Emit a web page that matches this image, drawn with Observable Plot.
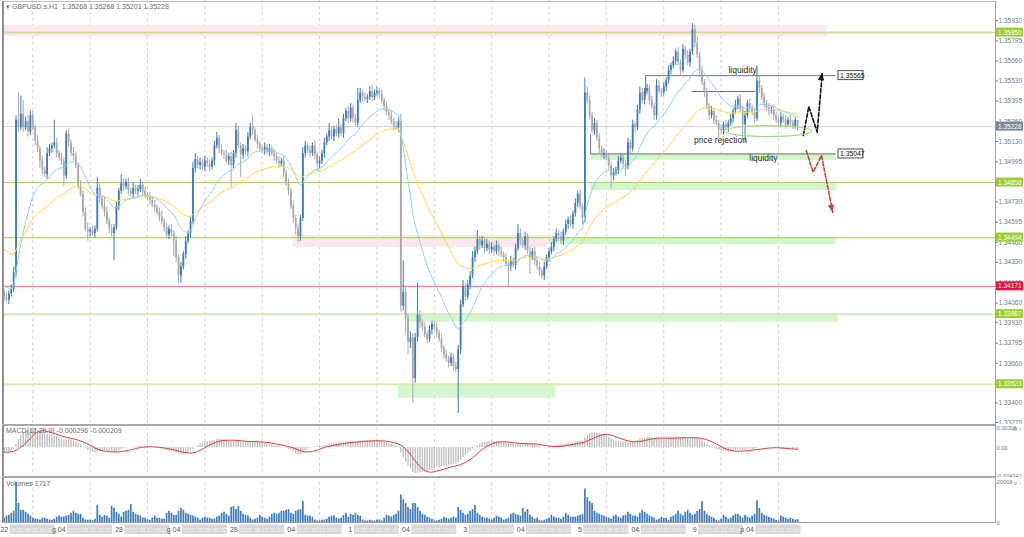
<!DOCTYPE html>
<html><head><meta charset="utf-8">
<script src="https://cdn.jsdelivr.net/npm/d3@7"></script>
<script src="https://cdn.jsdelivr.net/npm/@observablehq/plot@0.6"></script>
<style>
body{margin:0;background:#fff;}
#wrap{position:relative;width:1024px;height:537px;overflow:hidden;background:#fff;font-family:"Liberation Sans",Arial,sans-serif;}
#wrap svg{position:absolute;left:0;}
.ln{position:absolute;background:#a4a4a4;z-index:5;}
.lbl{position:absolute;font-size:7px;color:#6a6a6a;white-space:pre;z-index:6;line-height:8px;}
</style></head><body>
<div id="wrap"></div>
<script>
// ---------------- DATA (prices in pips above 1.3000) ----------------
const BASE = 1.3, PIP = 0.0001;
const firstOpen = 413;
const closePips = [
 410,408,412,415,426,527,522,531,522,526,519,530,
 522,513,508,500,494,491,505,508,510,512,505,502,500,490,518,512,505,503,497,484,478,466,455,453,
 454,452,455,482,475,470,466,460,455,452,456,470,480,485,483,486,480,478,482,480,481,484,480,477,
 476,474,471,469,466,463,460,456,451,455,452,447,436,424,430,438,447,452,460,495,501,497,499,496,
 500,498,496,500,510,515,508,505,504,500,503,497,505,520,510,504,508,506,516,522,520,514,511,508,
 507,509,506,508,505,503,500,498,500,492,485,480,470,462,455,450,462,505,510,507,505,510,504,498,
 500,505,512,516,520,516,521,518,522,518,528,533,528,535,528,525,540,545,542,541,542,546,542,545,
 546,544,540,536,532,530,526,523,522,526,404,413,396,380,383,356,383,398,393,390,385,382,388,392,
 390,386,382,376,372,369,366,370,364,362,375,405,417,410,418,424,436,440,448,444,447,442,445,441,
 443,440,444,440,438,436,432,430,434,431,442,452,447,444,450,440,436,440,434,430,427,424,430,436,
 440,443,448,452,450,447,453,458,461,458,465,472,478,470,462,545,540,530,520,525,515,508,504,505,
 502,497,490,492,494,500,502,498,496,512,508,524,522,534,545,540,546,548,540,536,530,550,546,545,
 549,553,560,563,566,572,565,560,574,570,565,572,587,578,570,560,552,545,536,530,533,527,525,521,
 520,524,522,525,528,533,537,541,534,524,530,538,535,532,528,553,548,542,538,535,533,534,530,527,
 525,529,527,524,527,525,523,526.8,522.8
];
const wickUp = [
 2,3,2,3,4,3,18,12,9,3,4,3,
 3,2,4,2,3,2,4,3,2,15,3,2,3,2,2,3,2,4,3,2,3,2,3,4,
 2,3,2,7,3,2,6,3,2,3,2,3,2,6,3,2,3,2,4,2,3,4,2,3,
 2,3,2,3,2,3,4,2,3,2,3,2,3,2,3,2,3,2,3,4,4,2,3,2,
 3,2,3,2,3,4,2,3,2,3,2,3,2,5,3,2,3,2,3,3,8,2,3,2,
 2,3,2,3,2,3,2,3,2,3,2,3,2,3,2,3,2,4,3,2,3,2,3,2,
 3,2,3,2,5,3,2,3,6,2,3,2,3,3,2,3,8,3,2,3,2,3,4,2,
 3,2,3,2,3,2,3,2,3,3,5,21,4,3,4,3,3,21,3,2,3,2,3,2,
 2,3,2,3,2,3,2,3,2,3,3,3,4,2,3,3,4,3,6,2,3,2,3,2,
 3,2,3,2,3,2,3,2,3,2,3,6,3,2,3,2,3,2,3,2,3,2,3,2,
 2,3,2,3,2,3,2,3,2,3,2,3,2,3,2,10,4,3,2,3,2,3,2,3,
 2,3,2,3,2,3,2,3,2,3,2,3,2,3,4,3,2,3,2,3,2,4,3,2,
 3,2,3,2,3,2,3,2,3,2,3,2,4,3,4,2,3,2,3,2,3,2,3,2,
 3,2,3,2,3,2,3,2,3,2,3,2,3,2,3,10,3,2,3,2,3,2,3,2,
 2,3,2,3,2,3,2,2,0
];
const wickDn = [
 3,2,3,2,2,3,3,2,3,2,3,2,
 2,3,2,5,3,2,3,2,3,2,3,2,3,7,2,3,2,3,2,3,2,3,2,6,
 3,2,3,2,3,2,3,2,3,2,18,2,3,2,3,2,3,2,3,2,3,2,3,2,
 2,3,2,3,2,3,2,3,2,3,2,10,3,5,5,2,3,2,3,2,3,2,3,2,
 3,2,3,2,3,2,3,2,3,2,3,15,2,3,2,15,3,2,3,2,3,2,3,2,
 2,3,2,3,2,3,2,3,2,3,2,3,2,3,4,4,3,2,3,2,3,2,3,5,
 3,2,3,2,3,2,3,2,3,2,3,2,3,2,3,2,3,2,3,2,3,2,3,2,
 2,3,2,3,2,3,2,3,2,3,4,3,11,8,4,16,3,3,4,3,2,3,2,3,
 2,3,2,3,3,2,3,2,3,2,29,3,2,3,2,3,2,3,2,3,2,3,2,3,
 2,3,2,3,2,3,2,14,3,2,3,2,3,2,3,2,11,2,3,2,3,2,3,2,
 3,2,3,2,3,2,3,2,3,2,3,2,3,2,4,3,2,3,2,3,2,3,2,3,
 2,3,8,3,2,3,2,3,6,2,3,2,3,2,3,2,3,2,3,2,3,3,2,3,
 2,3,2,3,2,3,2,3,2,3,2,3,2,3,2,3,2,3,2,3,2,3,2,6,
 2,3,2,3,2,3,2,3,2,10,12,2,3,2,3,2,3,2,3,2,3,2,3,2,
 2,3,2,3,2,3,2,2,2.7
];
const volumes = [
 2400,3400,3800,4800,5800,20006,9600,6200,6300,5300,4300,3400,
 2400,1900,1900,1500,2400,2400,1900,1500,1400,1900,2900,3400,2900,2900,3400,3800,4800,5800,4800,4300,4300,2400,1500,1400,
 1400,1200,1900,8600,3800,2900,3800,3400,2400,8200,7200,5300,4300,2900,5300,5800,6300,9100,5300,4300,3800,3400,2400,2400,
 1500,1400,2400,3400,2400,2400,1900,1900,4800,5800,4800,3800,3800,5800,7200,6300,4800,4300,3800,3400,2900,2400,1500,2400,
 2900,2400,2400,1900,1900,2900,3400,4800,5300,4300,3400,7700,8200,6700,8200,5800,4300,3800,3400,2400,1500,1900,2400,3800,
 2900,2400,1900,2900,4300,4800,4300,4800,5800,5800,6300,6700,4800,4300,5800,6300,6700,10600,3800,3400,3400,2900,1500,1000,
 1000,1400,1500,1900,2900,3400,3400,2400,1900,2400,3800,4800,2900,4300,3800,4800,3800,3400,1500,1000,1000,1400,1000,1000,
 1400,1500,1000,2400,3800,3400,2900,3800,4300,5800,13900,11500,9600,7700,6700,9600,9600,7700,5800,4300,3800,2900,2400,1900,
 1000,1000,1400,1900,2900,2400,1900,2400,2900,2400,7700,6300,4800,3800,4300,5800,6700,8600,4800,3800,2900,2400,2400,1900,
 1400,2400,3400,2900,2400,1400,1900,2400,4300,4800,4300,3800,3400,7200,5300,6700,3800,2900,1900,2400,1400,1000,1400,1900,
 2400,3800,2900,2400,2400,1900,2900,4800,3800,2900,2900,2900,3400,3800,4300,16800,12500,10600,9600,5800,4800,4300,3800,3400,
 2900,2400,1900,3400,3800,2900,2400,3400,3800,5300,4300,3400,3400,2900,4800,6300,5300,4300,3400,2900,2400,1400,1900,2900,
 2400,2400,1400,2900,3400,4300,5800,4300,3400,5300,6300,4800,3800,4300,5800,6700,10600,5800,4300,3400,2900,2400,1400,1000,
 1900,3800,2900,1900,2400,3400,4300,4300,3400,2400,3800,2900,2400,3400,4300,11000,7200,4800,3800,3400,2900,2400,1900,1400,
 1000,3400,2900,2400,1900,2400,1900,1400,1717
];
// indicator starting values read at the left edge (pips above 1.3000)
const maPeriods = [20, 50];
const maSeedPips = [418, 443];
const macdPeriods = [12, 26, 9];
const macdSeedPips = [411, 419];
// day boundaries (bar index) and their labels
const dayIndex = [12,36,60,84,108,132,156,180,204,228,252,276,300,324];
const dayLabels = ["2025.08.25 00:00","2025.08.26 00:00","2025.08.27 00:00","2025.08.28 00:00","2025.08.29 00:00","2025.09.01 00:00","2025.09.02 00:00","2025.09.03 00:00","2025.09.04 00:00","2025.09.05 00:00","2025.09.08 00:00","2025.09.09 00:00","2025.09.10 00:00","2025.09.11 00:00"];
const stubLabels = ["22","g 04","28","g 04","28","04","1","04","3","04","5","04","9","p 04"];
const priceTicks = [1.35930,1.35795,1.35660,1.35530,1.35395,1.35260,1.35130,1.34995,1.34860,1.34730,1.34595,1.34460,1.34330,1.34195,1.34060,1.33930,1.33795,1.33660,1.33525,1.33400,1.33270];
const macdTicks = [0.00308, 0, -0.004342];
const macdTickLabels = ["0.00308","0.00","-0.004342"];
const volTicks = [20006, 0];
// horizontal levels
const levelPrices = [1.35850,1.34858,1.34494,1.34171,1.33987,1.33523];
const levelKind = ["top","green","green","red","pale","pale"];
// zones: start bar, end bar, top price, bottom price
const zoneStart = [-0.25,121,245.4,245.4,227.8,169,165];
const zoneEnd   = [344.5,227.8,348.3,348.3,347.9,349.1,231];
const zoneTop   = [1.35897,1.34507,1.35050,1.34858,1.34494,1.33987,1.33523];
const zoneBot   = [1.35824,1.34428,1.35004,1.34805,1.34448,1.33934,1.33431];
const zoneKind  = ["pink","pink","green","green","green","green","green"];
// drawn lines: [bar1, price1, bar2, price2]
const segments = [
 [268.4,1.35565,347.9,1.35565],[268.4,1.35565,268.4,1.35433],
 [287.6,1.35460,314.4,1.35460],
 [245.4,1.35047,347.9,1.35047],[245.4,1.35179,245.4,1.35047]
];
const boxedBar = 349.1;
const boxedPrices = [1.35565,1.35047];
const noteText = ["liquidity","liquidity","price rejection"];
const noteBar = [309,317.7,299.7];
const notePrice = [1.35599,1.35017,1.35136];
const ellipseC = [319.8,1.35195], ellipseR = [18.4,0.00036];
const upPath = [[334.4,1.35169],[336.7,1.35361],[340.2,1.35191],[342.3,1.35577]];
const downPath = [[335.6,1.35070],[338.5,1.34926],[342,1.35037],[346.7,1.34661]];
const tagPrices = [1.35850,1.34858,1.34494,1.34171,1.33987,1.33523];
const tagKind = ["green","green","green","red","green","green"];

// ---------------- BUILD ----------------
let prev = firstOpen;
const rows = closePips.map((c,i)=>{
  const o = prev; prev = c;
  const hi = Math.max(o,c)+wickUp[i], lo = Math.min(o,c)-wickDn[i];
  return {i, o:BASE+o*PIP, c:BASE+c*PIP, h:BASE+hi*PIP, l:BASE+lo*PIP, up:c>o, v:volumes[i]};
});
const last = rows[rows.length-1];
function ema(arr,n,seed){const a=2/(n+1); let e=seed; return arr.map(v=>(e=e+a*(v-e)));}
const closes = rows.map(d=>d.c);
const maFast = ema(closes, maPeriods[0], BASE+maSeedPips[0]*PIP);
const maSlow = ema(closes, maPeriods[1], BASE+maSeedPips[1]*PIP);
rows.forEach((d,i)=>{d.mf=maFast[i]; d.ms=maSlow[i];});
const e12 = ema(closes,macdPeriods[0],BASE+macdSeedPips[0]*PIP), e26 = ema(closes,macdPeriods[1],BASE+macdSeedPips[1]*PIP);
const macdRows = rows.map((d,i)=>({i:d.i, m:e12[i]-e26[i]}));

const FONT = '"Liberation Sans", Arial, sans-serif';
const X = {domain:[-0.25,414.8], axis:null};
const BLUE="#3d7bb8", GREY="#a8a8a8";
const levelStyle = {top:["#d3d99a",2],green:["#acd66c",1.2],red:["#ef8796",1.3],pale:["#d6ebb4",2]};
const zoneColor = {pink:"#fde8ed", green:"#d3f6cc"};
const tagColor = {green:"#9acd32", red:"#e0143c"};

const wrap = document.getElementById("wrap");
const idx = (a)=>a.map((_,k)=>k);

const main = Plot.plot({
  width:1024, height:424, marginLeft:3, marginRight:29, marginTop:0, marginBottom:0,
  x:X, y:{domain:[1.332568,1.360624]}, color:{type:"identity"},
  style:{fontFamily:FONT, color:"#6d7b8a", background:"white", overflow:"visible"},
  marks:[
    Plot.ruleX(dayIndex,{stroke:"#d2d2d2", strokeDasharray:"3,3"}),
    Plot.rect(idx(zoneStart),{x1:k=>zoneStart[k], x2:k=>zoneEnd[k], y1:k=>zoneTop[k], y2:k=>zoneBot[k], fill:k=>zoneColor[zoneKind[k]]}),
    Plot.ruleY(idx(levelPrices),{y:k=>levelPrices[k], stroke:k=>levelStyle[levelKind[k]][0], strokeWidth:k=>levelStyle[levelKind[k]][1]}),
    Plot.ruleY([last.c],{stroke:"#d6d6d6"}),
    Plot.link(segments,{x1:d=>d[0], y1:d=>d[1], x2:d=>d[2], y2:d=>d[3], stroke:"#727272", strokeWidth:1}),
    Plot.ruleX(rows,{x:"i", y1:"l", y2:"h", stroke:d=>d.up?BLUE:GREY, strokeWidth:1}),
    Plot.ruleX(rows,{x:"i", y1:"o", y2:"c", stroke:d=>d.up?BLUE:GREY, strokeWidth:1.8}),
    Plot.lineY(rows,{x:"i", y:"ms", stroke:"#ffd84a", strokeWidth:1}),
    Plot.lineY(rows,{x:"i", y:"mf", stroke:"#92d1f2", strokeWidth:1}),
    Plot.line(upPath,{x:d=>d[0], y:d=>d[1], stroke:"#111", strokeWidth:1.6, strokeDasharray:"4,2"}),
    Plot.line(downPath,{x:d=>d[0], y:d=>d[1], stroke:"#c8403a", strokeWidth:1.6, strokeDasharray:"4,2"}),
    Plot.text(idx(noteText),{x:k=>noteBar[k], y:k=>notePrice[k], text:k=>noteText[k], fontSize:8.5, fill:"#2a2a2a"}),
    Plot.axisY(priceTicks,{anchor:"right", tickSize:2, tickPadding:1, fontSize:6.5, tickFormat:d=>d.toFixed(5)})
  ]
});
main.style.top = "0px";
wrap.appendChild(main);
const xs = main.scale("x"), ys = main.scale("y");
const gm = d3.select(main).append("g").attr("text-anchor","start");
// ellipse
gm.append("ellipse").attr("cx",xs.apply(ellipseC[0])).attr("cy",ys.apply(ellipseC[1]))
  .attr("rx",xs.apply(ellipseC[0]+ellipseR[0])-xs.apply(ellipseC[0]))
  .attr("ry",ys.apply(ellipseC[1]-ellipseR[1])-ys.apply(ellipseC[1]))
  .attr("fill","none").attr("stroke","#a6d77a").attr("stroke-width",1.2);
// arrow heads
function head(pts,color){
  const [a,b] = pts.slice(-2).map(([i,p])=>[xs.apply(i),ys.apply(p)]);
  const t = Math.atan2(b[1]-a[1],b[0]-a[0]), L=7, W=3.2;
  const c=Math.cos(t), s=Math.sin(t);
  const p1=[b[0]-L*c+W*s,b[1]-L*s-W*c], p2=[b[0]-L*c-W*s,b[1]-L*s+W*c];
  gm.append("polygon").attr("points",[b,p1,p2].map(p=>p.join(",")).join(" ")).attr("fill",color);
}
head(upPath,"#111"); head(downPath,"#c8403a");
// boxed labels inside chart
boxedPrices.forEach(p=>{
  const x0=xs.apply(boxedBar), y0=ys.apply(p);
  gm.append("rect").attr("x",x0).attr("y",y0-4.5).attr("width",25).attr("height",9).attr("fill","#fff").attr("stroke","#222").attr("stroke-width",0.8);
  gm.append("text").attr("x",x0+2).attr("y",y0+2.5).attr("text-anchor","start").attr("font-size",6.8).attr("font-family",FONT).attr("fill","#111").text(p.toFixed(5));
});
// price tags on the right axis
function tag(p,color){
  const y0=ys.apply(p);
  gm.append("rect").attr("x",996).attr("y",y0-4.5).attr("width",27).attr("height",9).attr("fill",color);
  gm.append("text").attr("x",998).attr("y",y0+2.5).attr("text-anchor","start").attr("font-size",6.5).attr("font-family",FONT).attr("fill","#fff").text(p.toFixed(5));
}
tagPrices.forEach((p,k)=>tag(p,tagColor[tagKind[k]]));
tag(last.c,"#7b8794");

// MACD panel
const macd = Plot.plot({
  width:1024, height:53, marginLeft:3, marginRight:29, marginTop:3, marginBottom:2,
  x:X, y:{domain:[-0.004342,0.00308]},
  style:{fontFamily:FONT, color:"#6d7b8a", background:"white", overflow:"visible"},
  marks:[
    Plot.ruleX(dayIndex,{stroke:"#d2d2d2", strokeDasharray:"3,3"}),
    Plot.ruleX(macdRows,{x:"i", y1:0, y2:"m", stroke:"#bdbdbd", strokeWidth:1.3, clip:true}),
    Plot.lineY(macdRows, Plot.windowY({k:macdPeriods[2], anchor:"end"},{x:"i", y:"m", stroke:"#e8383d", strokeWidth:1, clip:true})),
    Plot.axisY(macdTicks,{anchor:"right", tickSize:0, tickPadding:1, fontSize:5.6, dy:1, tickFormat:d=>macdTickLabels[macdTicks.indexOf(d)]})
  ]
});
macd.style.top = "424px";
wrap.appendChild(macd);

// Volume panel
const vol = Plot.plot({
  width:1024, height:60, marginLeft:3, marginRight:29, marginTop:5, marginBottom:14.5,
  x:X, y:{domain:[0,20006]},
  style:{fontFamily:FONT, color:"#6d7b8a", background:"white", overflow:"visible"},
  marks:[
    Plot.ruleX(dayIndex,{stroke:"#d2d2d2", strokeDasharray:"3,3"}),
    Plot.ruleX(rows,{x:"i", y1:0, y2:"v", stroke:"#3f7cb8", strokeWidth:1.7}),
    Plot.axisY(volTicks,{anchor:"right", tickSize:0, tickPadding:1, fontSize:5.8, tickFormat:d=>String(d)})
  ]
});
vol.style.top = "477px";
wrap.appendChild(vol);
const vx = vol.scale("x"), gv = d3.select(vol).append("g");
dayIndex.forEach((d,k)=>{
  const x0 = vx.apply(d);
  gv.append("rect").attr("x",x0-22.5).attr("y",47.5).attr("width",45).attr("height",9.5).attr("fill","#d7d7d7");
  gv.append("text").attr("x",x0).attr("y",54.6).attr("text-anchor","middle").attr("font-size",5.6).attr("font-family",FONT).attr("fill","#f1f1f1").text(dayLabels[k]);
  gv.append("text").attr("x",x0-24).attr("y",55).attr("text-anchor","end").attr("font-size",7).attr("font-family",FONT).attr("fill","#555").text(stubLabels[k]);
});

// frame lines & labels
function line(l,t,w,h,c){const e=document.createElement("div");e.className="ln";Object.assign(e.style,{left:l+"px",top:t+"px",width:w+"px",height:h+"px",background:c});wrap.appendChild(e);}
line(2,1,993,1,"#bdbdbd");
line(2,1,2,522,"#8e8e8e");
line(995,1,1,522,"#a2a2a2");
line(2,424,993,2,"#a9a9a9");
line(2,476,993,2,"#a9a9a9");
line(2,522,993,1,"#a2a2a2");
function label(l,t,txt){const e=document.createElement("div");e.className="lbl";e.style.left=l+"px";e.style.top=t+"px";e.textContent=txt;wrap.appendChild(e);}
const f5 = v=>v.toFixed(5);
label(6,3,`▾ GBPUSD.s,H1  ${f5(last.o)} ${f5(last.h)} ${f5(last.l)} ${f5(last.c)}`);
label(6,427,"MACD(12,26,9) -0.000296 -0.000209");
label(6,480,"Volumes 1717");
</script>
</body></html>
